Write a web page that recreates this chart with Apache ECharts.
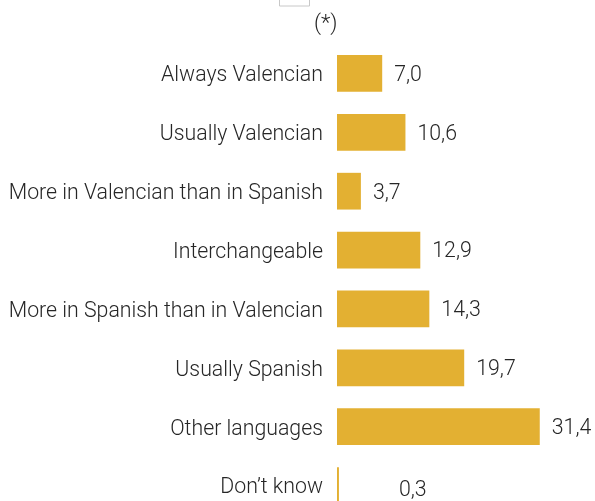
<!DOCTYPE html>
<html>
<head>
<meta charset="utf-8">
<script src="https://cdn.jsdelivr.net/npm/echarts@6/dist/echarts.min.js"></script>
<style>
  html, body { margin: 0; padding: 0; background: #fff; }
  #chart { width: 595px; height: 501px; }
</style>
</head>
<body>
<div id="chart"></div>
<script>
const categories = [
    'Always Valencian',
    'Usually Valencian',
    'More in Valencian than in Spanish',
    'Interchangeable',
    'More in Spanish than in Valencian',
    'Usually Spanish',
    'Other languages',
    'Don\u2019t know'
];
const values = [7.0, 10.6, 3.7, 12.9, 14.3, 19.7, 31.4, 0.3];

const font = 'Roboto, sans-serif';
const textColor = '#262626';
const fontSize = 21.3;

const chart = echarts.init(document.getElementById('chart'), null, { renderer: 'canvas' });

chart.setOption({
    animation: false,
    title: {
        text: '(*)',
        left: 309,
        top: 8,
        textStyle: { fontFamily: font, fontSize: 22, fontWeight: 300, color: textColor }
    },
    graphic: [{
        type: 'rect',
        shape: { x: 279.5, y: -10, width: 30, height: 16 },
        style: { fill: '#fff', stroke: '#c8c8c8', lineWidth: 1 }
    }],
    grid: { left: 337, width: 226, top: 44, height: 471, outerBoundsMode: 'none', containLabel: false },
    xAxis: {
        type: 'value',
        min: 0,
        max: 35,
        show: false
    },
    yAxis: {
        type: 'category',
        data: categories,
        inverse: true,
        axisLine: { show: false },
        axisTick: { show: false },
        splitLine: { show: false },
        axisLabel: {
            margin: 14,
            formatter: v => '{c|' + v + '}',
            rich: {
                c: {
                    padding: [5, 0, 0, 0],
                    fontFamily: font,
                    fontSize: fontSize,
                    fontWeight: 300,
                    color: textColor
                }
            }
        }
    },
    series: [{
        type: 'bar',
        barCategoryGap: '37.6%',
        data: values.map((v, i) => {
            let item = { value: v };
            if (i === values.length - 1) {
                item.label = { offset: [48, 5] };
            }
            return item;
        }),
        itemStyle: { color: '#E3B032' },
        label: {
            show: true,
            position: 'right',
            distance: 12,
            offset: [0, 2],
            fontFamily: font,
            fontSize: fontSize,
            fontWeight: 300,
            color: textColor,
            formatter: p => p.value.toFixed(1).replace('.', ',')
        }
    }]
});
</script>
</body>
</html>
